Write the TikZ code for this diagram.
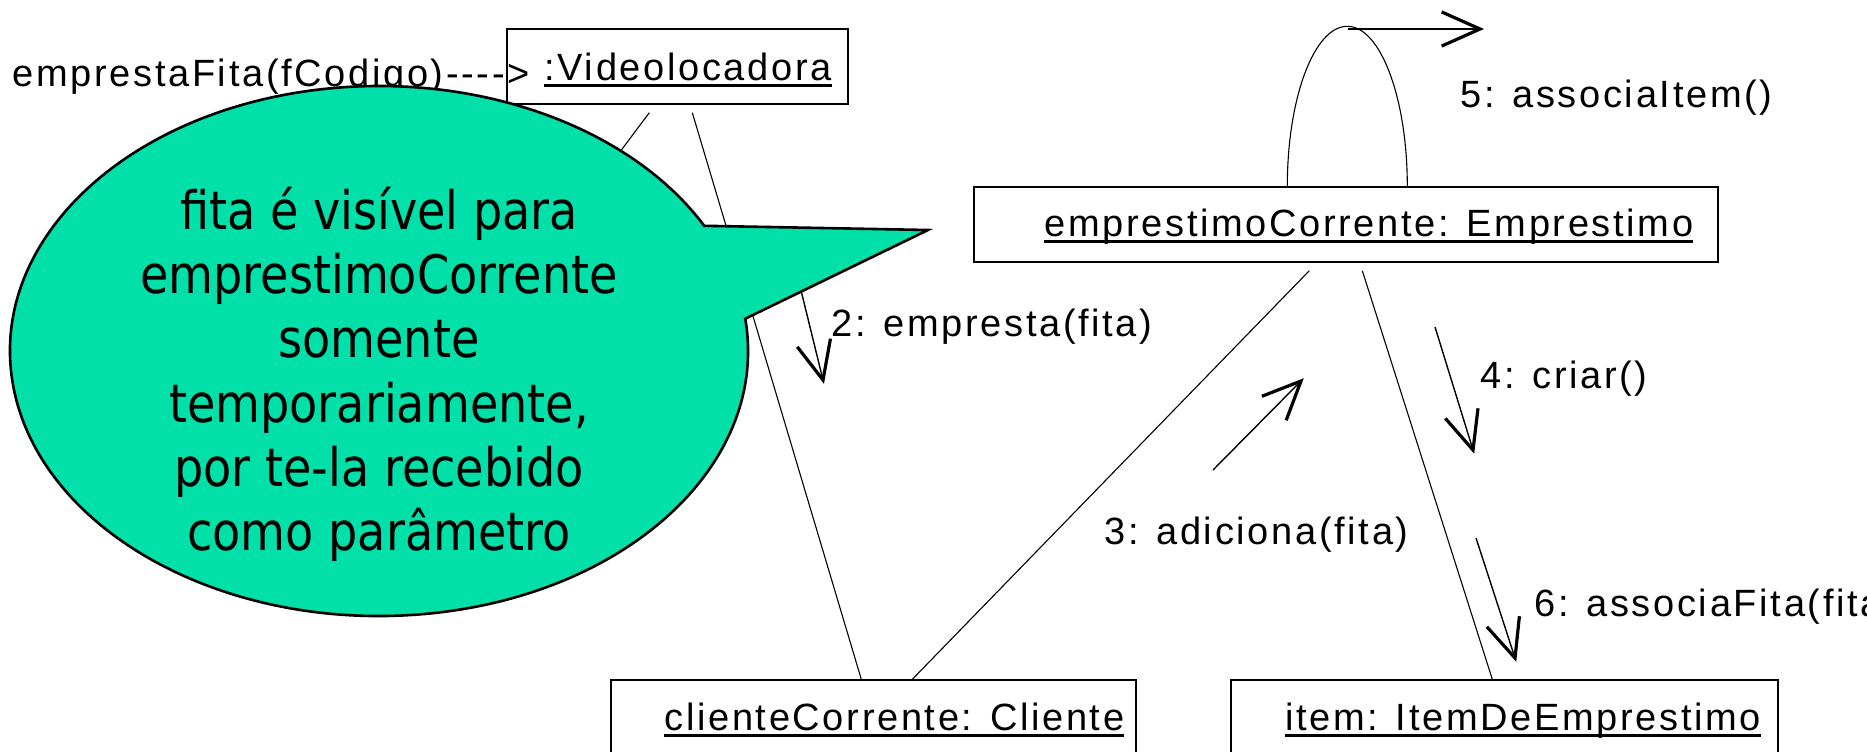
\documentclass[tikz,border=0pt]{standalone}
\usepackage{fontspec}
\setmainfont{Liberation Sans}
\newfontfamily\lblfont{Liberation Sans}[LetterSpace=7]
\newfontfamily\bubfont{DejaVu Sans}
\usetikzlibrary{calc}
\definecolor{bubblegreen}{RGB}{0,224,168}
\newcommand\ulx[1]{\setbox0\hbox{#1}\rlap{\rule[-3.6pt]{\wd0}{1.6pt}}\box0}
\tikzset{
  obj/.style={draw, line width=0.7pt, rectangle, inner sep=0pt},
  lbl/.style={font=\lblfont\fontsize{19}{23}\selectfont, inner sep=0pt, anchor=base west},
  link/.style={line width=0.55pt},
  msg/.style={line width=0.7pt},
  barb/.style={line width=1.6pt},
}
\begin{document}
\begin{tikzpicture}[x=0.5pt,y=-0.5pt]
\clip (0,0) rectangle (1867,751);
% object boxes
\node[obj, minimum width=170.5pt, minimum height=37.5pt] (vl) at (677.5,66.5) {};
\node[obj, minimum width=372pt, minimum height=37.5pt] (em) at (1346,224.5) {};
\node[obj, minimum width=262.5pt, minimum height=60pt] (cc) at (873.5,740) {};
\node[obj, minimum width=273.5pt, minimum height=60pt] (item) at (1504.5,740) {};
% links
\coordinate (hid) at (560,232);
\draw[link] ($(vl.south west)+(143,8)$) -- (hid);
\draw[link] ($(vl.south west)+(186,8)$) -- ($(cc.north west)+(251,0)$);
\draw[link] ($(em.south west)+(336,8)$) -- ($(cc.north west)+(302,0)$);
\draw[link] ($(em.south west)+(389,8)$) -- ($(item.north west)+(262,0)$);
\draw[link] ($(em.north west)+(314,0)$) arc[start angle=180, end angle=360, x radius=60, y radius=160];
% message arrows
\coordinate (m2s) at (796,270); \coordinate (m2t) at (823,380);
\coordinate (m3s) at (1213,470); \coordinate (m3t) at (1301,381);
\coordinate (m4s) at (1435,327); \coordinate (m4t) at (1473,450);
\coordinate (m5s) at (1348,29); \coordinate (m5t) at (1480,29);
\coordinate (m6s) at (1476,538); \coordinate (m6t) at (1515,658);
\foreach \m in {m2,m3,m4,m5,m6}{
  \draw[msg] (\m s) -- (\m t);
  \draw[barb] ($(\m t)!21pt!24:(\m s)$) -- (\m t) -- ($(\m t)!21pt!-24:(\m s)$);
}
% incoming message text (partly hidden by the note)
\node[lbl] (call) at (12,86) {emprestaFita(fCodigo){-}{-}{-}{-}>};
% note bubble
\coordinate (bc) at (379,351);
\coordinate (tip) at (928,230);
\filldraw[fill=bubblegreen, draw=black, line width=1.3pt, line join=miter]
  (tip) -- ($(bc)+(-7:369 and 265)$) arc[start angle=-7, end angle=331.8, x radius=369, y radius=265] -- cycle;
\node[font=\bubfont\fontsize{26.5}{32.15}\selectfont, inner sep=0pt] (note) at (379,377)
  {\scalebox{0.87}[1]{\begin{tabular}{@{}c@{}}fita é visível para\\emprestimoCorrente\\somente\\temporariamente,\\por te-la recebido\\como parâmetro\end{tabular}}};
% object names
\node[lbl] (vlt) at (544,80) {\ulx{:Videolocadora}};
\node[lbl] (emt) at (1044,236) {\ulx{emprestimoCorrente: Emprestimo}};
\node[lbl] (cct) at (664,730) {\ulx{clienteCorrente: Cliente}};
\node[lbl] (itemt) at (1285,730) {\ulx{item: ItemDeEmprestimo}};
% message labels
\node[lbl] (l2) at (831,336) {2: empresta(fita)};
\node[lbl] (l3) at (1104,544) {3: adiciona(fita)};
\node[lbl] (l4) at (1480,388) {4: criar()};
\node[lbl] (l5) at (1460,107) {5: associaItem()};
\node[lbl] (l6) at (1534,616) {6: associaFita(fita)};
\end{tikzpicture}
\end{document}
